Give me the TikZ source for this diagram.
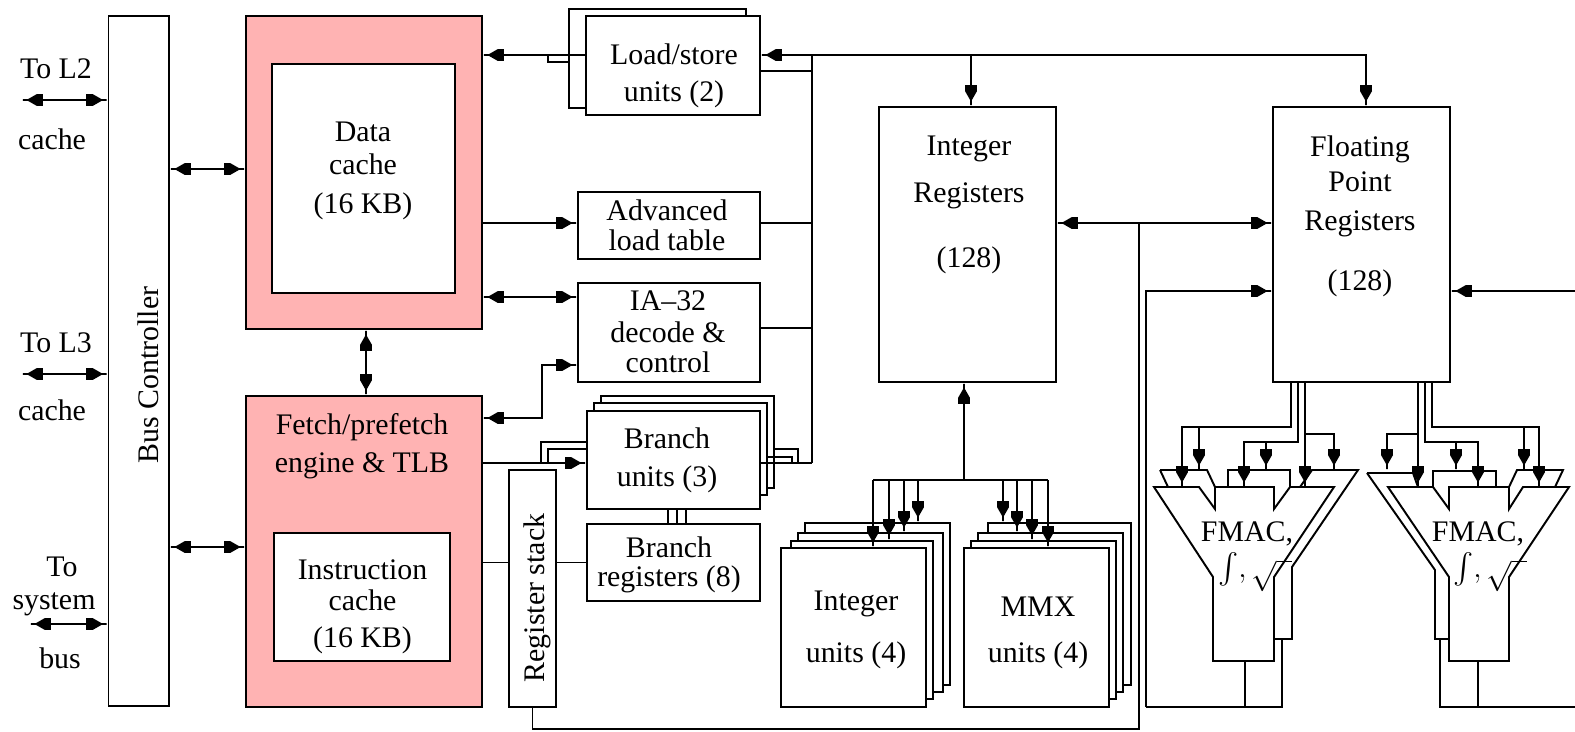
\documentclass[tikz,border=0pt]{standalone}
\usepackage{amsmath}
\usepackage{fontspec}
\setmainfont{Liberation Serif}
\usepackage{tikz}
\usetikzlibrary{arrows.meta,calc}
\definecolor{cachepink}{RGB}{255,179,179}

\begin{document}
\begin{tikzpicture}[x=0.02cm, y=-0.02cm, line width=1.1pt,
	>={Square[length=3.5pt,width=6.5pt,sep=0pt]Triangle[length=6pt,width=6.5pt,sep=0pt]Square[length=2.5pt,width=1.1pt,sep=0pt]},
	block/.style 2 args={draw, fill=white, inner sep=0pt, minimum width=#1*0.02cm, minimum height=#2*0.02cm},
	pinkblock/.style 2 args={block={#1}{#2}, fill=cachepink},
	lbl/.style={inner sep=0pt, font=\fontsize{17}{17}\selectfont},
	tablbl/.style={lbl, yshift=-2pt},
	funnel/.style={draw, fill=white, line join=miter}]

	\useasboundingbox (0,0) rectangle (1575,731);

	% blocks on the left
	\node[block={60.5}{690}, shift = {(138.75, 361)}] (bus) {};
	\node[pinkblock={236}{313}, shift = {(364, 172.5)}] (dc_outer) {};
	\node[block={183}{229}, shift = {(363.5, 178.5)}] (dc_inner) {};
	\node[pinkblock={236}{311}, shift = {(364, 551.5)}] (fe_outer) {};
	\node[block={176}{128}, shift = {(362, 597)}] (ic_inner) {};

	% blocks in the middle column
	\node[block={177}{99}, shift = {(657.5, 58.5)}] (ls_b) {};
	\node[block={174}{99}, shift = {(673, 65.5)}] (ls_a) {};
	\node[block={182}{67}, shift = {(669, 225.5)}] (alt) {};
	\node[block={182}{99}, shift = {(669, 332.5)}] (ia32) {};
	\node[block={173}{92}, shift = {(687.5, 442)}] (bu_c) {};
	\node[block={173}{92}, shift = {(680.5, 449)}] (bu_b) {};
	\node[block={173}{98}, shift = {(673.5, 460)}] (bu_a) {};
	\node[block={173}{77}, shift = {(673.5, 562.5)}] (br) {};
	\node[block={47}{237}, shift = {(532.5, 588.5)}] (rs) {};

	% register files
	\node[block={177}{275}, shift = {(967.5, 244.5)}] (ir) {};
	\node[block={177}{275}, shift = {(1361.5, 244.5)}] (fr) {};

	% integer and mmx stacks
	\node[block={145}{162}, shift = {(877.5, 604)}] (iu_d) {};
	\node[block={145}{159}, shift = {(870.5, 612.5)}] (iu_c) {};
	\node[block={142}{158}, shift = {(862, 620)}] (iu_b) {};
	\node[block={145}{159}, shift = {(853.5, 627.5)}] (iu_a) {};
	\node[block={143}{162}, shift = {(1059.5, 604)}] (mu_d) {};
	\node[block={145}{159}, shift = {(1050.5, 612.5)}] (mu_c) {};
	\node[block={145}{158}, shift = {(1043.5, 620)}] (mu_b) {};
	\node[block={145}{159}, shift = {(1036.5, 627.5)}] (mu_a) {};

	% fmac units
	\draw (1160,470) -- (1168,487);
	\draw (1160,470) -- (1207,470) -- (1215,487);
	\draw (1228,487) -- (1228,470) -- (1290,470) -- (1290,487);
	\draw (1300,487) -- (1312,470) -- (1358,470) -- (1292,567) -- (1292,639) -- (1274,639);
	\path[funnel] (1154,487) -- (1199,487) -- (1215,509) -- (1215,487) -- (1274,487) -- (1274,509) -- (1290,487) -- (1334,487)
		-- (1274,577) -- (1274,661) -- (1213,661) -- (1213,577) -- cycle;

	\draw (1367,473) -- (1413,473) -- (1418,487);
	\draw (1367,473) -- (1435,570) -- (1435,639) -- (1449,639);
	\draw (1433,487) -- (1433,471) -- (1496,471) -- (1496,487);
	\draw (1509,487) -- (1517,470) -- (1563,470) -- (1555,487);
	\path[funnel] (1388,487) -- (1433,487) -- (1449,509) -- (1449,487) -- (1509,487) -- (1509,509) -- (1523,487) -- (1569,487)
		-- (1509,577) -- (1509,661) -- (1449,661) -- (1449,577) -- cycle;

	% texts
	\node[lbl] (l2_to) at (56,69) {To L2};
	\node[lbl] (l2_cache) at (52,139) {cache};
	\node[lbl] (l3_to) at (56,343) {To L3};
	\node[lbl] (l3_cache) at (52,410) {cache};
	\node[lbl] (sys_to) at (62,567) {To};
	\node[lbl] (sys_sys) at (54,604) {system};
	\node[lbl] (sys_bus) at (60,658) {bus};
	\node[lbl, rotate=90] (bus_txt) at (148,375) {Bus Controller};
	\node[lbl, rotate=90] (rs_txt) at (537,598) {Register stack};

	\node[tablbl] (dc_txt) at (363,168) {
		\begin{tabular}{@{}c@{}}
			Data\\[1.7pt]
			cache\\[5pt]
			(16 KB)
		\end{tabular}
	};

	\node[tablbl] (fe_txt) at (362,444) {
		\begin{tabular}{@{}c@{}}
			Fetch/prefetch\\[4.5pt]
			engine \& TLB
		\end{tabular}
	};

	\node[tablbl] (ic_txt) at (362.5,604) {
		\begin{tabular}{@{}c@{}}
			Instruction\\[0.5pt]
			cache\\[4pt]
			(16 KB)
		\end{tabular}
	};

	\node[tablbl] (ls_txt) at (674,73.5) {
		\begin{tabular}{@{}c@{}}
			Load/store\\[4.5pt]
			units (2)
		\end{tabular}
	};

	\node[tablbl] (alt_txt) at (667,226) {
		\begin{tabular}{@{}c@{}}
			Advanced\\
			load table
		\end{tabular}
	};

	\node[tablbl] (ia_txt) at (668,332) {
		\begin{tabular}{@{}c@{}}
			IA--32\\[1.7pt]
			decode \&\\
			control
		\end{tabular}
	};

	\node[tablbl] (bu_txt) at (667,458) {
		\begin{tabular}{@{}c@{}}
			Branch\\[4.5pt]
			units (3)
		\end{tabular}
	};

	\node[tablbl] (br_txt) at (669,562.5) {
		\begin{tabular}{@{}c@{}}
			Branch\\
			registers (8)
		\end{tabular}
	};

	\node[tablbl] (ir_txt) at (969,202) {
		\begin{tabular}{@{}c@{}}
			Integer\\[9.6pt]
			Registers\\[20pt]
			(128)
		\end{tabular}
	};

	\node[tablbl] (fr_txt) at (1360,214) {
		\begin{tabular}{@{}c@{}}
			Floating\\[3pt]
			Point\\[5pt]
			Registers\\[17pt]
			(128)
		\end{tabular}
	};

	\node[tablbl] (iu_txt) at (856,627) {
		\begin{tabular}{@{}c@{}}
			Integer\\[13pt]
			units (4)
		\end{tabular}
	};

	\node[tablbl] (mu_txt) at (1038,630) {
		\begin{tabular}{@{}c@{}}
			MMX\\[9.6pt]
			units (4)
		\end{tabular}
	};

	\node[lbl] (fm_l_txt) at (1247,534) {FMAC,};
	\node[lbl] (fm_l_ops) at (1255,572) {$\int,\sqrt{\ \ }$};
	\node[lbl] (fm_r_txt) at (1478,534) {FMAC,};
	\node[lbl] (fm_r_ops) at (1490,572) {$\int,\sqrt{\ \ }$};

	% junctions
	\coordinate (ctl_top) at (812,55);
	\coordinate (ctl_bot) at (812,463);
	\coordinate (ls_ctl) at (812,71);
	\coordinate (ls_stub) at (548,62);
	\coordinate (alt_ctl) at (812,223);
	\coordinate (ia_ctl) at (812,328);
	\coordinate (ia_dc) at (530,297);
	\coordinate (fe_ia) at (542,418);
	\coordinate (ia_fe) at (542,365);
	\coordinate (bus_dc) at (200,169);
	\coordinate (bus_fe) at (200,547);
	\coordinate (l2_end) at (22,100);
	\coordinate (l3_end) at (22,374);
	\coordinate (sys_end) at (30,624);
	\coordinate (bu_s1) at (541,442);
	\coordinate (bu_s2) at (548,449);
	\coordinate (bu_s3) at (798,449);
	\coordinate (bu_s4) at (792,457);
	\coordinate (ir_in) at (971,55);
	\coordinate (fr_in) at (1366,55);
	\coordinate (rs_bot) at (1139,729);
	\coordinate (ir_fr) at (1139,223);
	\coordinate (lp_bot) at (1146,707);
	\coordinate (lp_top) at (1146,291);
	\coordinate (edge_r) at (1575,291);
	\coordinate (fm_l_a) at (1245,661);
	\coordinate (fm_l_b) at (1282,639);
	\coordinate (fm_r_a) at (1478,661);
	\coordinate (fm_r_b) at (1440,639);
	\coordinate (edge_b) at (1575,707);
	\coordinate (eu_mid) at (964,480);
	\coordinate (eu_l) at (873,480);
	\coordinate (eu_r) at (1048,480);

	% connectors of the left half
	\draw[<->] (l2_end) -- (bus.west |- l2_end);
	\draw[<->] (l3_end) -- (bus.west |- l3_end);
	\draw[<->] (sys_end) -- (bus.west |- sys_end);
	\draw[<->] (bus.east |- bus_dc) -- (dc_outer.west |- bus_dc);
	\draw[<->] (bus.east |- bus_fe) -- (fe_outer.west |- bus_fe);
	\draw[<->] ($(dc_outer.south) + (2, 0)$) -- ($(fe_outer.north) + (2, 0)$);
	\draw[->] (ls_a.west |- ctl_top) -- (dc_outer.east |- ctl_top);
	\draw (ls_b.west |- ls_stub) -- (ls_stub) -- (ls_stub |- ctl_top);
	\draw[<->] (ls_a.east |- ctl_top) -- (fr_in) -- (fr_in |- fr.north);
	\draw[->] (ir_in) -- (ir_in |- ir.north);
	\draw (ls_a.east |- ls_ctl) -- (ls_ctl);
	\draw (ctl_top) -- (ctl_bot);
	\draw[->] (dc_outer.east |- alt_ctl) -- (alt.west |- alt_ctl);
	\draw (alt.east |- alt_ctl) -- (alt_ctl);
	\draw[<->] (dc_outer.east |- ia_dc) -- (ia32.west |- ia_dc);
	\draw (ia32.east |- ia_ctl) -- (ia_ctl);
	\draw[<->] (fe_outer.east |- fe_ia) -- (fe_ia) -- (ia_fe) -- (ia32.west |- ia_fe);

	% branch units
	\draw[->] (fe_outer.east |- ctl_bot) -- (bu_a.west |- ctl_bot);
	\draw (bu_a.east |- ctl_bot) -- (ctl_bot);
	\draw (bu_a.west |- bu_s1) -- (bu_s1) -- (bu_s1 |- ctl_bot);
	\draw (bu_a.west |- bu_s2) -- (bu_s2) -- (bu_s2 |- ctl_bot);
	\draw (bu_c.east |- bu_s3) -- (bu_s3) -- (bu_s3 |- ctl_bot);
	\draw (bu_b.east |- bu_s4) -- (bu_s4) -- (bu_s4 |- ctl_bot);
	\foreach \dx in {-5.5, 3.5, 12.5} {
		\draw ($(bu_a.south) + (\dx, 0)$) -- ($(br.north) + (\dx, 0)$);
	}
	\draw (fe_outer.east |- br.west) -- (rs.west |- br.west);
	\draw (rs.east |- br.west) -- (br.west);
	\draw (rs.south) -- (rs.south |- rs_bot) -- (rs_bot) -- (ir_fr);

	% connectors of the registers
	\draw[<->] (ir.east |- ir_fr) -- (fr.west |- ir_fr);
	\draw[->] (lp_bot) -- (lp_top) -- (fr.west |- lp_top);
	\draw[->] (edge_r) -- (fr.east |- edge_r);
	\draw (lp_bot) -- (fm_l_b |- lp_bot) -- (fm_l_b);
	\draw (fm_l_a) -- (fm_l_a |- lp_bot);
	\draw (edge_b) -- (fm_r_b |- edge_b) -- (fm_r_b);
	\draw (fm_r_a) -- (fm_r_a |- edge_b);

	% execution units into the integer registers
	\draw (eu_l) -- (eu_r);
	\draw[->] (eu_mid) -- (eu_mid |- ir.south);
	\foreach \n/\x in {iu_a/873, iu_b/889, iu_c/904, iu_d/918, mu_d/1003, mu_c/1017, mu_b/1032, mu_a/1048} {
		\coordinate (eu_tap) at (\x,480);
		\draw[->] (eu_tap) -- (eu_tap |- \n.north);
	}

	% floating point registers into the fmac units
	\foreach \xo/\yh/\xa/\xb in {1291/427/1182/1199, 1298/442/1244/1266, 1305/434/1305/1334, 1418/434/1418/1387, 1425/442/1478/1456, 1432/427/1539/1524} {
		\coordinate (fp_bend) at (\xo,\yh);
		\coordinate (fp_drop) at (\xa,\yh);
		\coordinate (fp_side) at (\xb,\yh);
		\coordinate (fp_front) at (\xa,487);
		\coordinate (fp_back) at (\xb,470);
		\draw[->] (fr.south -| fp_bend) -- (fp_bend) -- (fp_drop) -- (fp_front);
		\draw[->] (fp_drop) -- (fp_side) -- (fp_back);
	}
\end{tikzpicture}
\end{document}
